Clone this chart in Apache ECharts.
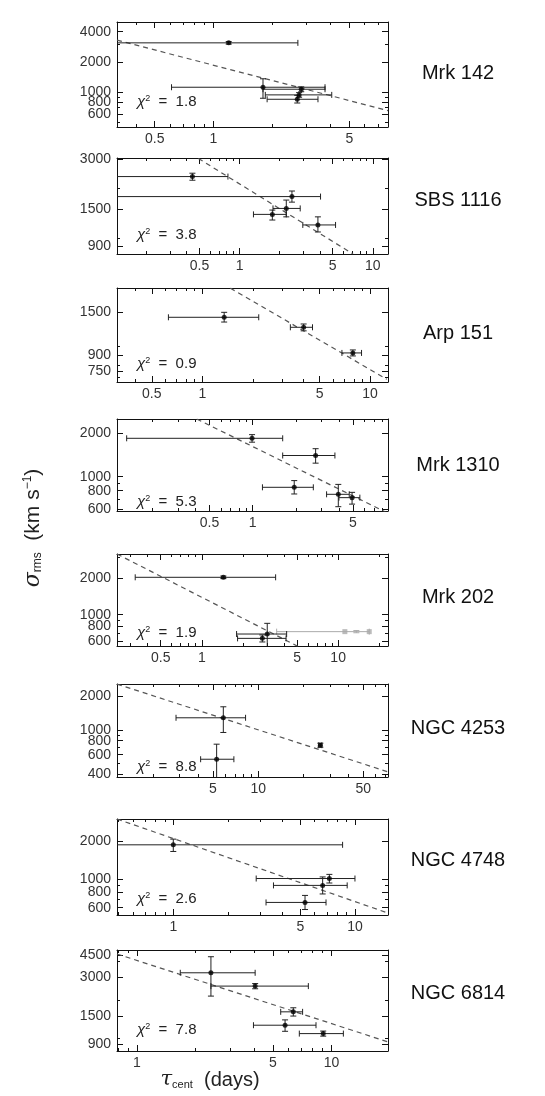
<!DOCTYPE html>
<html><head><meta charset="utf-8">
<script src="https://cdn.jsdelivr.net/npm/echarts@6/dist/echarts.min.js"></script>
<style>html,body{margin:0;padding:0;background:#fff}#c{width:545px;height:1096px}</style>
</head><body><div id="c"></div>
<script>
// ---------------- data ----------------
const names = ['Mrk 142','SBS 1116','Arp 151','Mrk 1310','Mrk 202','NGC 4253','NGC 4748','NGC 6814'];
const chi2 = ['1.8','3.8','0.9','5.3','1.9','8.8','2.6','7.8'];
// axis ranges (tau in days, sigma in km/s)
const xRanges = [[0.32,7.9],[0.12,13],[0.31,12.8],[0.113,8.8],[0.239,23.2],[1.15,73],[0.49,15.2],[0.79,19.5]];
const yRanges = [[450,5000],[810,3050],[660,1980],[580,2500],[551,3170],[380,2560],[525,3015],[800,4920]];
const xLabels = [[0.5,1,5],[0.5,1,5,10],[0.5,1,5,10],[0.5,1,5],[0.5,1,5,10],[5,10,50],[1,5,10],[1,5,10]];
const yLabels = [[600,800,1000,2000,4000],[900,1500,3000],[750,900,1500],[600,800,1000,2000],[600,800,1000,2000],[400,600,800,1000,2000],[600,800,1000,2000],[900,1500,3000,4500]];

// points: [tau, tauLo, tauHi, sigma, sigmaLo, sigmaHi]
const mrk142 = [[1.20,0.20,2.72,3100,3010,3190],[1.80,0.61,3.75,1120,870,1360],[2.83,1.80,3.75,1070,1010,1130],[2.76,1.85,4.06,940,890,990],[2.70,1.89,3.45,850,780,930]];
const sbs1116 = [[0.442,0.05,0.817,2360,2244,2472],[2.47,0.05,4.05,1790,1658,1933],[2.24,1.78,2.85,1520,1353,1706],[1.76,1.27,2.24,1400,1295,1486],[3.87,2.98,5.25,1210,1098,1353]];
const arp151 = [[1.35,0.628,2.17,1406,1330,1490],[4.02,3.35,4.54,1251,1200,1300],[7.9,6.8,8.9,927,895,960]];
const mrk1310 = [[0.99,0.132,1.62,1840,1730,1950],[2.75,1.62,3.75,1400,1240,1560],[1.95,1.17,2.65,845,760,940],[3.96,3.28,4.72,756,621,885],[4.94,4.0,5.6,717,647,780]];
const mrk202 = [[1.44,0.325,3.48,2035,1985,2085],[3.02,1.80,4.19,692,527,848],[2.78,1.83,4.15,637,595,680]];
const mrk202Grey = [[13.6,3.54,16.9,724,709,739]];
const mrk202GreySq = [[11.2,724],[16.9,724]];
const ngc4253 = [[5.86,2.84,8.24,1280,947,1604],[5.29,4.14,6.89,547,348,745],[25.9,25.3,26.5,730,700,760]];
const ngc4748 = [[1.0,0.2,8.55,1884,1669,2090],[7.23,2.86,10.0,1020,940,1100],[6.64,3.56,9.06,900,770,1050],[5.31,3.24,6.93,660,580,750]];
const ngc6814 = [[2.40,1.67,4.05,3266,2147,4360],[4.05,2.40,7.6,2570,2450,2690],[6.36,5.48,7.1,1618,1500,1740],[5.77,3.97,8.32,1272,1140,1400],[9.06,6.83,11.5,1094,1045,1145]];

// dashed fit lines: two end points [tau, sigma]
const mrk142Fit = [[0.32,3300],[7.9,655]];
const sbs1116Fit = [[0.49,3030],[7.1,810]];
const arp151Fit = [[1.47,1977],[12.6,681]];
const mrk1310Fit = [[0.407,2500],[8.83,559]];
const mrk202Fit = [[0.239,3170],[5.7,511]];
const ngc4253Fit = [[1.15,2557],[73,422]];
const ngc4748Fit = [[0.49,3015],[15.2,544]];
const ngc6814Fit = [[0.79,4580],[19.5,942]];

const allPts = [mrk142,sbs1116,arp151,mrk1310,mrk202,ngc4253,ngc4748,ngc6814];
const allFits = [mrk142Fit,sbs1116Fit,arp151Fit,mrk1310Fit,mrk202Fit,ngc4253Fit,ngc4748Fit,ngc6814Fit];

// ---------------- layout ----------------
const gridTops = [22,158,288,419,554,684,819,950];
const gridHeights = [105,96,94,92,92,93,96,101];
const titleY = [73,200,333,465,597,728,860,993];
const chiY = [102,235,364,502,633,767,899,1030];
const FONT = '"Liberation Sans", Arial, Helvetica, sans-serif';

const L = Math.log10;
function minorTicks(r, major){
  const out=[];
  for(let n=Math.floor(L(r[0]))-1;n<=Math.ceil(L(r[1]));n++){
    for(let k=1;k<10;k++){
      const v=k*Math.pow(10,n);
      if(v>r[0]*1.0001 && v<r[1]*0.9999 && !major.some(m=>Math.abs(m-v)/v<1e-6)) out.push(+v.toPrecision(6));
    }
  }
  return out;
}
function fmt(v, ticks){
  for(const t of ticks){ if(Math.abs(L(t)-v)<1e-6) return String(t); }
  return '';
}
// labels: values to label on this axis (null = no labels)
function axisDef(i, range, ticks, labels, position, tickLen, showLine){
  return {
    type:'value', gridIndex:i, position, min:L(range[0]), max:L(range[1]),
    axisLine:{show:showLine, onZero:false, lineStyle:{color:'#111', width:1}},
    axisTick:{show:true, inside:true, length:tickLen, customValues:ticks.map(L), lineStyle:{color:'#111', width:1}},
    axisLabel:labels && labels.length ? {show:true, hideOverlap:false, showMinLabel:true, showMaxLabel:true,
       customValues:labels.map(L), formatter:v=>fmt(v,labels),
       color:'#333', fontSize:14, fontFamily:FONT, margin:(position==='bottom'?5:6)} : {show:false},
    splitLine:{show:false}, minorTick:{show:false}, minorSplitLine:{show:false}
  };
}
function errRender(color){
  return function(params, api){
    const cs = params.coordSys;
    const left=cs.x, right=cs.x+cs.width, top=cs.y, bottom=cs.y+cs.height;
    const x=api.value(0), y=api.value(1);
    const c=api.coord([x,y]);
    const xl=api.coord([api.value(2),y])[0], xh=api.coord([api.value(3),y])[0];
    const yl=api.coord([x,api.value(4)])[1], yh=api.coord([x,api.value(5)])[1];
    const st={stroke:color, lineWidth:1};
    const ch=[]; const cap=3;
    const xa=Math.max(xl,left), xb=Math.min(xh,right);
    ch.push({type:'line', shape:{x1:xa,y1:c[1],x2:xb,y2:c[1]}, style:st});
    if(xl>=left) ch.push({type:'line', shape:{x1:xl,y1:c[1]-cap,x2:xl,y2:c[1]+cap}, style:st});
    if(xh<=right) ch.push({type:'line', shape:{x1:xh,y1:c[1]-cap,x2:xh,y2:c[1]+cap}, style:st});
    const ya=Math.min(yl,bottom), yb=Math.max(yh,top);
    ch.push({type:'line', shape:{x1:c[0],y1:ya,x2:c[0],y2:yb}, style:st});
    if(yl<=bottom) ch.push({type:'line', shape:{x1:c[0]-cap,y1:yl,x2:c[0]+cap,y2:yl}, style:st});
    if(yh>=top) ch.push({type:'line', shape:{x1:c[0]-cap,y1:yh,x2:c[0]+cap,y2:yh}, style:st});
    return {type:'group', children:ch};
  };
}
const toLog = p => [L(p[0]),L(p[3]),L(p[1]),L(p[2]),L(p[4]),L(p[5])];
const evens = a => a.filter((_,k)=>k%2===0);
const odds = a => a.filter((_,k)=>k%2===1);

const option = {animation:false, backgroundColor:'#fff', textStyle:{fontFamily:FONT},
  grid:[], xAxis:[], yAxis:[], series:[], graphic:[]};

names.forEach((nm,i)=>{
  option.grid.push({left:117, width:271, top:gridTops[i], height:gridHeights[i]});
  const xr=xRanges[i], yr=yRanges[i], xM=xLabels[i], yM=yLabels[i];
  const xm=minorTicks(xr,xM), ym=minorTicks(yr,yM);
  option.xAxis.push(axisDef(i,xr,xM,evens(xM),'bottom',6,true), axisDef(i,xr,xm,odds(xM),'bottom',3,false),
                    axisDef(i,xr,xM,null,'top',6,true), axisDef(i,xr,xm,null,'top',3,false));
  option.yAxis.push(axisDef(i,yr,yM,evens(yM),'left',6,true), axisDef(i,yr,ym,odds(yM),'left',3,false),
                    axisDef(i,yr,yM,null,'right',6,true), axisDef(i,yr,ym,null,'right',3,false));
  const xi=4*i, yi=4*i;
  option.series.push({type:'line', xAxisIndex:xi, yAxisIndex:yi, data:allFits[i].map(p=>[L(p[0]),L(p[1])]),
    symbol:'none', clip:true, silent:true, lineStyle:{type:[5,4], color:'#555', width:1.2}, z:1});
  if(i===4){
    option.series.push({type:'custom', xAxisIndex:xi, yAxisIndex:yi, renderItem:errRender('#aaa'),
      data:mrk202Grey.map(toLog), z:2, silent:true});
    option.series.push({type:'scatter', xAxisIndex:xi, yAxisIndex:yi, symbol:'rect', symbolSize:5,
      itemStyle:{color:'#aaa'}, data:mrk202GreySq.map(p=>[L(p[0]),L(p[1])]), z:2, silent:true});
  }
  option.series.push({type:'custom', xAxisIndex:xi, yAxisIndex:yi, renderItem:errRender('#222'),
    data:allPts[i].map(toLog), z:3, silent:true});
  option.series.push({type:'scatter', xAxisIndex:xi, yAxisIndex:yi, symbol:'circle', symbolSize:5,
    itemStyle:{color:'#000'}, data:allPts[i].map(p=>[L(p[0]),L(p[3])]), z:4, silent:true});
  option.graphic.push({type:'text', x:458, y:titleY[i], style:{text:nm, fill:'#111',
    font:'20px '+FONT, align:'center', verticalAlign:'middle'}});
  option.graphic.push({type:'text', x:137, y:chiY[i], style:{text:'{i|χ}{s|2}{n|  =  '+chi2[i]+'}',
    align:'left', verticalAlign:'middle',
    rich:{i:{font:'italic 15px '+FONT, fill:'#222'}, s:{font:'9px '+FONT, fill:'#222', verticalAlign:'top', padding:[0,0,6,0]}, n:{font:'15px '+FONT, fill:'#222'}}}});
});
// axis titles
option.graphic.push({type:'text', x:33, y:528, rotation:Math.PI/2, style:{
  text:'{g|σ}{sub|rms}{n|  (km s}{sup|−1}{n|)}', align:'center', verticalAlign:'middle',
  rich:{g:{font:'italic 22px "DejaVu Serif", serif', fill:'#222'}, sub:{font:'12px '+FONT, fill:'#222', verticalAlign:'bottom', padding:[8,0,0,0]},
        n:{font:'21px '+FONT, fill:'#222'}, sup:{font:'12px '+FONT, fill:'#222', verticalAlign:'top', padding:[0,0,8,0]}}}});
option.graphic.push({type:'text', x:210, y:1080, style:{
  text:'{g|τ}{sub|cent}{n|  (days)}', align:'center', verticalAlign:'middle',
  rich:{g:{font:'italic 21px "DejaVu Serif", serif', fill:'#222'}, sub:{font:'11px '+FONT, fill:'#222', verticalAlign:'bottom', padding:[8,0,0,0]},
        n:{font:'20px '+FONT, fill:'#222'}}}});

const chart = echarts.init(document.getElementById('c'), null, {renderer:'canvas'});
chart.setOption(option);
</script></body></html>
